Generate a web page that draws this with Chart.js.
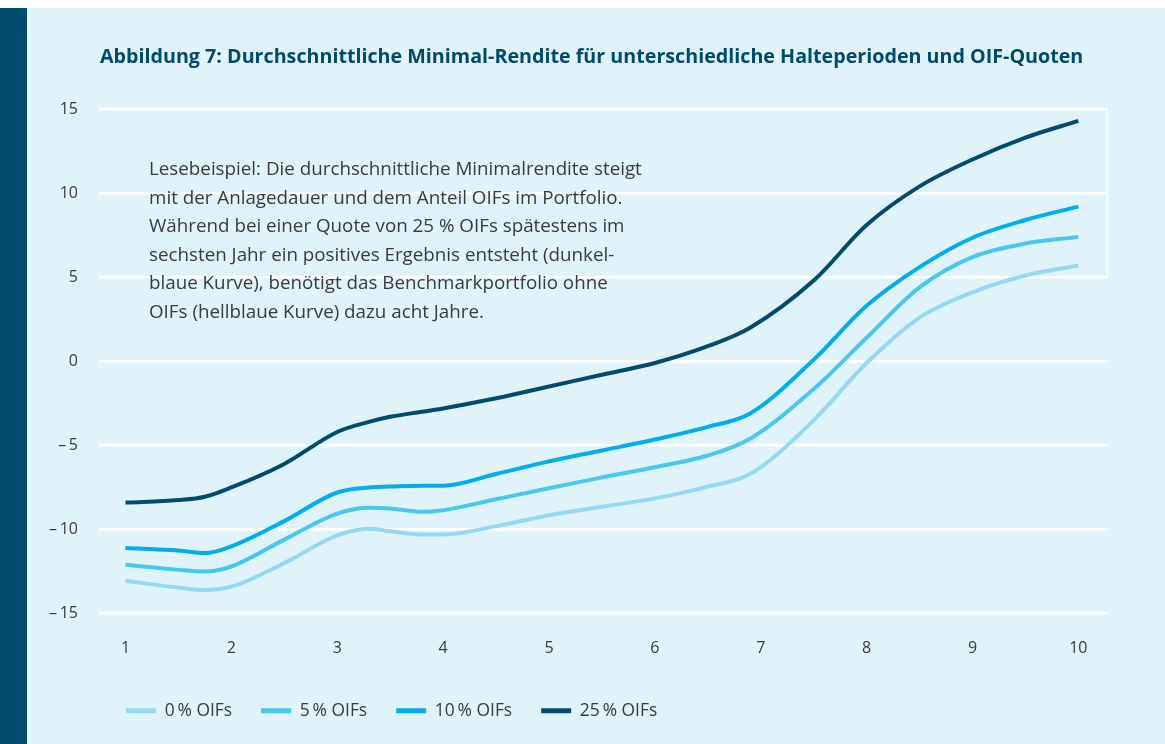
<!DOCTYPE html>
<html lang="de">
<head>
<meta charset="utf-8">
<title>Abbildung 7</title>
<script src="https://cdn.jsdelivr.net/npm/chart.js@4.4.1/dist/chart.umd.min.js"></script>
<style>
  html, body { margin: 0; padding: 0; background: #fff; }
  body { width: 1165px; height: 744px; position: relative; overflow: hidden; }
  .panel { position: absolute; left: 0; top: 8px; width: 1165px; height: 736px; background: #e1f3fa; border-left: 27px solid #004a6e; box-sizing: border-box; }
  .wrap { position: absolute; left: 0; top: 0; width: 1165px; height: 744px; }
</style>
</head>
<body>
<div class="panel"></div>
<div class="wrap"><canvas id="chart"></canvas></div>
<script>
// Haltedauer in Jahren (Stützstellen der Kurven)
const years = [1, 1.5, 1.75, 2, 2.5, 3, 3.3, 3.5, 3.8, 4, 4.5, 5, 5.5, 6, 6.5, 6.9, 7.5, 8, 8.5, 9, 9.5, 10];

// durchschnittliche Minimal-Rendite je OIF-Quote
const oif0  = [-13.05, -13.45, -13.6, -13.4, -12.0, -10.35, -9.95, -10.1, -10.3, -10.3, -9.8, -9.15, -8.65, -8.15, -7.45, -6.7, -3.5, -0.1, 2.6, 4.1, 5.1, 5.7];
const oif5  = [-12.1, -12.4, -12.5, -12.2, -10.6, -9.05, -8.7, -8.75, -8.95, -8.85, -8.2, -7.55, -6.9, -6.3, -5.6, -4.6, -1.65, 1.4, 4.4, 6.2, 7.0, 7.4];
const oif10 = [-11.1, -11.25, -11.4, -11.0, -9.5, -7.8, -7.5, -7.45, -7.4, -7.4, -6.7, -5.95, -5.3, -4.65, -3.9, -3.1, 0.1, 3.3, 5.6, 7.35, 8.4, 9.2];
const oif25 = [-8.4, -8.25, -8.05, -7.5, -6.1, -4.2, -3.6, -3.3, -3.0, -2.8, -2.2, -1.5, -0.8, -0.1, 0.9, 2.0, 4.8, 8.1, 10.4, 12.0, 13.3, 14.3];

const xTicks = [1, 2, 3, 4, 5, 6, 7, 8, 9, 10];
const seriesLabels = ['0\u2009% OIFs', '5\u2009% OIFs', '10\u2009% OIFs', '25\u2009% OIFs'];
const seriesColors = ['#93d9f5', '#46c8f2', '#00aeef', '#004b72'];

const titleText = 'Abbildung 7: Durchschnittliche Minimal-Rendite für unterschiedliche Halteperioden und OIF-Quoten';
const noteLines = [
    'Lesebeispiel: Die durchschnittliche Minimalrendite steigt',
    'mit der Anlagedauer und dem Anteil OIFs im Portfolio.',
    'Während bei einer Quote von 25 % OIFs spätestens im',
    'sechsten Jahr ein positives Ergebnis entsteht (dunkel-',
    'blaue Kurve), benötigt das Benchmarkportfolio ohne',
    'OIFs (hellblaue Kurve) dazu acht Jahre.'
];

const textColor = '#3a3a3a';
const fontFamily = '"Open Sans", "Noto Sans", sans-serif';

function toPoints(values) {
    return years.map((x, i) => ({ x: x, y: values[i] }));
}

const datasets = [oif0, oif5, oif10, oif25].map((values, i) => ({
    label: seriesLabels[i],
    data: toPoints(values),
    borderColor: seriesColors[i],
    backgroundColor: seriesColors[i],
    borderWidth: 4,
    borderCapStyle: 'butt',
    pointRadius: 0,
    fill: false,
    cubicInterpolationMode: 'monotone'
}));

// Titel, Legende und Lesebeispiel an die Position der Vorlage schieben
const extras = {
    id: 'extras',
    afterLayout(chart) {
        if (chart.titleBlock) {
            chart.titleBlock.left = 100;
        }
        const lg = chart.legend;
        if (lg) {
            const h = lg.height;
            lg.left = 97;
            lg.top = 673;
            lg.bottom = lg.top + h;
        }
    },
    beforeDatasetsDraw(chart) {
        const { ctx, chartArea, scales: { y } } = chart;
        ctx.save();
        // dünne Rahmenlinie des Textkastens
        ctx.strokeStyle = '#ffffff';
        ctx.lineWidth = 1.5;
        ctx.beginPath();
        ctx.moveTo(chartArea.right - 0.75, y.getPixelForValue(15));
        ctx.lineTo(chartArea.right - 0.75, y.getPixelForValue(5));
        ctx.stroke();

        ctx.fillStyle = textColor;
        ctx.font = '18.8px ' + fontFamily;
        ctx.textAlign = 'left';
        ctx.textBaseline = 'alphabetic';
        noteLines.forEach((line, i) => {
            ctx.fillText(line, 149, 175 + i * 28.6);
        });
        ctx.restore();
    }
};

new Chart(document.getElementById('chart'), {
    type: 'line',
    data: { datasets: datasets },
    options: {
        responsive: true,
        maintainAspectRatio: false,
        animation: false,
        layout: { padding: { top: 0, right: 57, bottom: 0, left: 0 } },
        plugins: {
            title: {
                display: true,
                text: titleText,
                align: 'start',
                color: '#004a6e',
                font: { family: fontFamily, size: 19.7, weight: 'bold', lineHeight: 1.2 },
                padding: { top: 45.2, bottom: 40.2 }
            },
            legend: {
                position: 'bottom',
                align: 'start',
                labels: {
                    color: textColor,
                    font: { family: fontFamily, size: 17.4 },
                    boxWidth: 30,
                    boxHeight: 5,
                    padding: 29,
                    generateLabels(chart) {
                        const items = Chart.defaults.plugins.legend.labels.generateLabels(chart);
                        items.forEach((item, i) => {
                            item.lineWidth = 0;
                            item.fillStyle = seriesColors[i];
                        });
                        return items;
                    }
                }
            },
            tooltip: { enabled: false }
        },
        scales: {
            x: {
                type: 'linear',
                min: 0.75,
                max: 10.28,
                grid: { display: false },
                border: { display: false },
                afterBuildTicks(scale) {
                    scale.ticks = xTicks.map(v => ({ value: v }));
                },
                afterFit(scale) {
                    scale.height = 74;
                },
                ticks: {
                    color: textColor,
                    padding: 17,
                    font: { family: fontFamily, size: 16 },
                    callback: v => String(v)
                }
            },
            y: {
                min: -15,
                max: 15,
                grid: { color: '#ffffff', lineWidth: 2.5, drawTicks: false },
                border: { display: false },
                afterFit(scale) {
                    scale.width = 99;
                },
                ticks: {
                    stepSize: 5,
                    color: textColor,
                    padding: 21,
                    font: { family: fontFamily, size: 16 },
                    callback: v => v < 0 ? '\u2013\u2009' + Math.abs(v) : String(v)
                }
            }
        }
    },
    plugins: [extras]
});
</script>
</body>
</html>
